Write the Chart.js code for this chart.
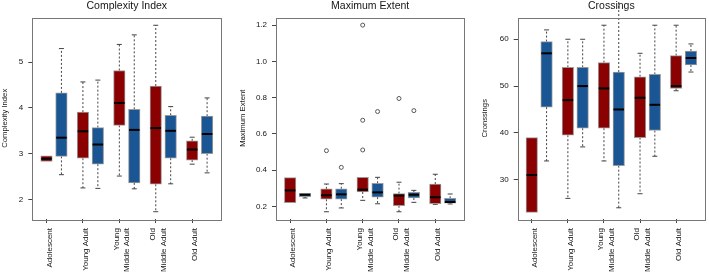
<!DOCTYPE html>
<html>
<head>
<meta charset="utf-8">
<script src="https://cdn.jsdelivr.net/npm/chart.js"></script>
<style>
  body { margin: 0; background: #fff; width: 709px; height: 273px; overflow: hidden; position: relative; }
  .panel { position: absolute; top: 0; height: 273px; }
</style>
</head>
<body>
<div class="panel" style="left:0;width:237px"><canvas id="complexity"></canvas></div>
<div class="panel" style="left:237px;width:242px"><canvas id="extent"></canvas></div>
<div class="panel" style="left:479px;width:230px"><canvas id="crossings"></canvas></div>
<script>
// groups on the x axis
const groups = ['Adolescent', 'Young Adult', ['Young', 'Middle Adult'], ['Old', 'Middle Adult'], 'Old Adult']

// box stats, one row per group: [min, q1, median, q3, max]
const complexityRed = [
  [2.83, 2.83, 2.89, 2.95, 2.95],
  [2.25, 2.90, 3.49, 3.91, 4.57],
  [2.51, 3.62, 4.11, 4.82, 5.39],
  [1.73, 2.33, 3.56, 4.48, 5.81],
  [2.77, 2.86, 3.09, 3.28, 3.36]
]
const complexityBlue = [
  [2.54, 2.94, 3.35, 4.33, 5.30],
  [2.24, 2.77, 3.20, 3.57, 4.61],
  [2.23, 2.36, 3.52, 3.97, 5.60],
  [2.34, 2.90, 3.50, 3.84, 4.03],
  [2.58, 3.00, 3.43, 3.82, 4.22]
]
const complexityTicks = [2, 3, 4, 5]

const extentRed = [
  [0.220, 0.220, 0.288, 0.358, 0.358],
  [0.170, 0.239, 0.261, 0.296, 0.323],
  [0.233, 0.279, 0.292, 0.360, 0.360],
  [0.170, 0.203, 0.259, 0.270, 0.333],
  [0.211, 0.214, 0.250, 0.323, 0.377]
]
const extentBlue = [
  [0.246, 0.253, 0.264, 0.272, 0.272],
  [0.191, 0.240, 0.266, 0.297, 0.325],
  [0.214, 0.251, 0.277, 0.327, 0.360],
  [0.222, 0.246, 0.264, 0.277, 0.288],
  [0.213, 0.217, 0.224, 0.244, 0.268]
]
const extentRedOutliers = [[], [0.507], [1.2, 0.675, 0.511], [0.795], []]
const extentBlueOutliers = [[], [0.415], [0.723], [0.728], []]
const extentTicks = [0.2, 0.4, 0.6, 0.8, 1.0, 1.2]

const crossingsRed = [
  [23, 23, 31, 39, 39],
  [26, 39.5, 47, 54, 60],
  [34, 41, 49.5, 55, 63],
  [27, 39, 47.5, 52, 57],
  [49, 49.5, 50, 56.5, 63]
]
const crossingsBlue = [
  [34, 45.5, 57, 59.5, 62],
  [37, 41, 50, 54, 60],
  [24, 33, 45, 53, 69],
  [35, 40.5, 46, 52.5, 63],
  [53, 54.5, 56, 57.5, 59]
]
const crossingsTicks = [30, 40, 50, 60]

// ------------------------------------------------------------
const FONT = '"Liberation Sans", Arial, Helvetica, sans-serif'
const INK = '#151515'
const RED = '#8b0000'
const BLUE = '#1a5594'
const BLUE_SHIFT = 0.41
const BOX_W = 11.5

// whiskers, caps, medians, frame and panel title
const boxPlugin = {
  id: 'boxes',
  beforeDatasetsDraw(chart, args, opts) {
    const { ctx, scales: { x, y } } = chart
    ctx.save()
    ctx.strokeStyle = '#444'
    ctx.lineWidth = 1
    opts.series.forEach(s => {
      s.stats.forEach((st, i) => {
        const px = x.getPixelForValue(i + 1 + s.shift)
        const [lo, q1, , q3, hi] = st
        ctx.setLineDash([2, 2])
        ctx.beginPath()
        if (hi > q3) { ctx.moveTo(px, y.getPixelForValue(q3)); ctx.lineTo(px, y.getPixelForValue(hi)) }
        if (lo < q1) { ctx.moveTo(px, y.getPixelForValue(q1)); ctx.lineTo(px, y.getPixelForValue(lo)) }
        ctx.stroke()
        ctx.setLineDash([])
        ctx.beginPath()
        if (hi > q3) { const py = y.getPixelForValue(hi); ctx.moveTo(px - 2.5, py); ctx.lineTo(px + 2.5, py) }
        if (lo < q1) { const py = y.getPixelForValue(lo); ctx.moveTo(px - 2.5, py); ctx.lineTo(px + 2.5, py) }
        ctx.stroke()
      })
    })
    ctx.restore()
  },
  afterDatasetsDraw(chart, args, opts) {
    const { ctx, chartArea: a, scales: { x, y } } = chart
    ctx.save()
    ctx.strokeStyle = '#000'
    ctx.lineWidth = 2
    opts.series.forEach(s => {
      s.stats.forEach((st, i) => {
        const px = x.getPixelForValue(i + 1 + s.shift)
        const py = y.getPixelForValue(st[2])
        ctx.beginPath()
        ctx.moveTo(px - BOX_W / 2 + 0.5, py)
        ctx.lineTo(px + BOX_W / 2 - 0.5, py)
        ctx.stroke()
      })
    })
    ctx.strokeStyle = '#777'
    ctx.lineWidth = 1
    ctx.strokeRect(Math.round(a.left) + 0.5, Math.round(a.top) + 0.5, Math.round(a.right - a.left), Math.round(a.bottom - a.top))
    ctx.fillStyle = INK
    ctx.font = '10.5px ' + FONT
    ctx.textAlign = 'center'
    ctx.textBaseline = 'alphabetic'
    ctx.fillText(opts.title, (a.left + a.right) / 2, 8.5)
    ctx.restore()
  }
}

const makePanel = (id, cfg) => {
  const boxes = (stats, shift, color) => ({
    type: 'bar',
    data: stats.map((s, i) => ({ x: i + 1 + shift, y: [s[1], s[3]] })),
    backgroundColor: color,
    borderColor: '#9a9a9a',
    borderWidth: 1,
    borderSkipped: false,
    barThickness: BOX_W,
    grouped: false
  })
  const outliers = (list, shift) => ({
    type: 'scatter',
    data: list.flatMap((vals, i) => vals.map(v => ({ x: i + 1 + shift, y: v }))),
    pointStyle: 'circle',
    pointRadius: 2,
    pointBackgroundColor: 'rgba(0,0,0,0)',
    pointBorderColor: '#555',
    pointBorderWidth: 1
  })
  const datasets = [boxes(cfg.red, 0, RED), boxes(cfg.blue, BLUE_SHIFT, BLUE)]
  if (cfg.redOut) datasets.push(outliers(cfg.redOut, 0))
  if (cfg.blueOut) datasets.push(outliers(cfg.blueOut, BLUE_SHIFT))

  new Chart(document.getElementById(id), {
    type: 'bar',
    data: { datasets },
    plugins: [boxPlugin],
    options: {
      responsive: true,
      maintainAspectRatio: false,
      animation: false,
      layout: { padding: { top: 17.5, right: cfg.rightPad, left: 0, bottom: 0 } },
      plugins: {
        legend: { display: false },
        tooltip: { enabled: false },
        boxes: { title: cfg.title, series: [{ stats: cfg.red, shift: 0 }, { stats: cfg.blue, shift: BLUE_SHIFT }] }
      },
      scales: {
        x: {
          type: 'linear', position: 'bottom', weight: 0,
          min: 0.61, max: 5.8, offset: false,
          grid: { offset: false, drawOnChartArea: false, drawTicks: true, tickLength: 4, color: '#444' },
          border: { display: false },
          ticks: { display: false },
          afterBuildTicks: s => { s.ticks = groups.map((g, i) => ({ value: i + 1 })) },
          afterFit: s => { s.height = 4 }
        },
        xl: {
          type: 'linear', position: 'bottom', weight: 1,
          min: 0.61, max: 5.8, offset: false,
          grid: { display: false },
          border: { display: false },
          ticks: {
            autoSkip: false, minRotation: 90, maxRotation: 90, padding: -3,
            color: INK, font: { size: 8, family: FONT, lineHeight: 1.3 },
            callback: (v, i) => groups[i]
          },
          // single-line names sit just right of the tick, two-line names start left of it
          afterBuildTicks: s => { s.ticks = groups.map((g, i) => ({ value: i + 1 + (Array.isArray(g) ? -0.077 : 0.077) })) },
          afterFit: s => { s.height = 50 }
        },
        y: {
          type: 'linear', min: cfg.yMin, max: cfg.yMax,
          grid: { drawOnChartArea: false, drawTicks: true, tickLength: 4, color: '#444' },
          border: { display: false },
          ticks: { padding: 5, color: INK, font: { size: 8, family: FONT }, callback: cfg.yFmt },
          afterBuildTicks: s => { s.ticks = cfg.yTicks.map(v => ({ value: v })) },
          title: { display: true, text: cfg.yTitle, color: INK, font: { size: 7.7, family: FONT }, padding: { top: cfg.titlePad, bottom: 0 } },
          afterFit: s => { s.width = cfg.yWidth }
        }
      }
    }
  })
}

makePanel('complexity', {
  title: 'Complexity Index', yTitle: 'Complexity Index',
  red: complexityRed, blue: complexityBlue,
  yMin: 1.57, yMax: 5.98, yTicks: complexityTicks, yFmt: v => String(v),
  yWidth: 32.3, rightPad: 15.7, titlePad: 0
})
makePanel('extent', {
  title: 'Maximum Extent', yTitle: 'Maximum Extent',
  red: extentRed, blue: extentBlue, redOut: extentRedOutliers, blueOut: extentBlueOutliers,
  yMin: 0.130, yMax: 1.242, yTicks: extentTicks, yFmt: v => v.toFixed(1),
  yWidth: 39, rightPad: 14.7, titlePad: 1.7
})
makePanel('crossings', {
  title: 'Crossings', yTitle: 'Cronssings',
  red: crossingsRed, blue: crossingsBlue,
  yMin: 21.6, yMax: 64.65, yTicks: crossingsTicks, yFmt: v => String(v),
  yWidth: 38.7, rightPad: 4, titlePad: 1.4
})
</script>
</body>
</html>
